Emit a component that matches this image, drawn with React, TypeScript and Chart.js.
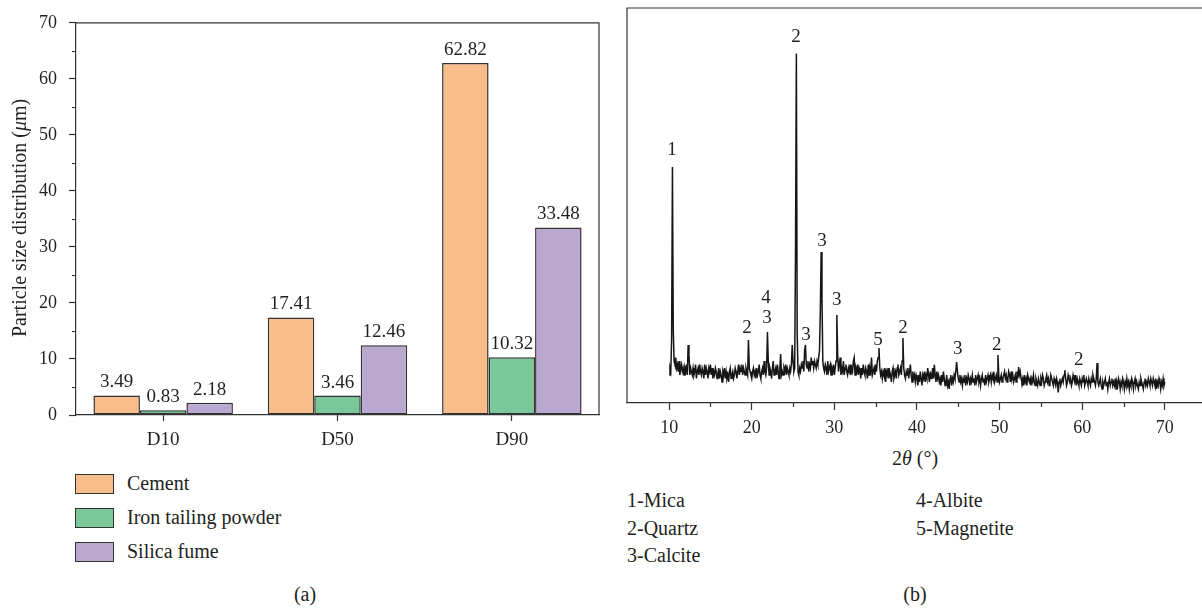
import React, { useEffect, useRef } from "react";
import { Chart, registerables } from "chart.js";

Chart.register(...registerables);

const FONT = "'Liberation Serif', 'Times New Roman', serif";
const INK = "#231f20";

// ---- Panel (a): particle size distribution ----
const categories = ["D10", "D50", "D90"];
const seriesNames = ["Cement", "Iron tailing powder", "Silica fume"];
const cementValues = [3.49, 17.41, 62.82];
const ironValues = [0.83, 3.46, 10.32];
const silicaValues = [2.18, 12.46, 33.48];
const seriesColors = ["#F9BC8B", "#7AC899", "#BAA8D0"];
const barTicks = [0, 10, 20, 30, 40, 50, 60, 70];
const barMinorTicks = [5, 15, 25, 35, 45, 55, 65];

// ---- Panel (b): XRD pattern ----
const xrdStart = 10;
const xrdStep = 0.1;
const xrdIntensity = [
  8, 10, 9, 18, 67.5, 21, 12, 11, 13, 10,
  11, 9, 12, 8, 10, 11, 9, 10, 8, 10,
  9, 11, 8, 16.6, 14, 8, 10, 9, 8, 10,
  8, 9, 11, 7, 9, 10, 8, 11, 9, 8,
  10, 9, 7, 11, 8, 10, 9, 7, 10, 9,
  11, 8, 10, 7, 9, 8, 10, 9, 7, 8,
  10, 7, 9, 8, 6, 9, 8, 10, 7, 9,
  7, 8, 6, 9, 10, 7, 8, 9, 7, 8,
  10, 9, 7, 9, 11, 8, 10, 9, 11, 8,
  10, 9, 8, 10, 9, 8, 18, 10, 9, 8,
  7, 9, 10, 8, 9, 7, 10, 8, 9, 11,
  8, 7, 9, 10, 8, 12, 9, 8, 10, 20.3,
  12, 8, 10, 9, 7, 10, 12, 8, 9, 10,
  8, 11, 9, 7, 10, 14, 8, 9, 8, 10,
  9, 11, 8, 10, 9, 8, 10, 9, 11, 16.6,
  12, 9, 10, 45, 100, 20, 9, 8, 10, 9,
  11, 10, 12, 9, 15, 16.6, 11, 10, 12, 9,
  11, 10, 13, 11, 12, 10, 12, 11, 10, 12,
  11, 13, 15, 26, 43.2, 30, 12, 10, 9, 11,
  10, 8, 12, 9, 10, 11, 8, 10, 9, 11,
  8, 10, 12, 25.2, 14, 9, 11, 13, 8, 10,
  9, 12, 8, 10, 11, 9, 8, 10, 9, 11,
  8, 10, 9, 12, 13, 8, 10, 9, 11, 8,
  10, 9, 7, 10, 8, 11, 9, 8, 10, 9,
  7, 11, 8, 10, 9, 13, 8, 9, 10, 8,
  11, 9, 12, 13, 15.7, 10, 8, 9, 7, 9,
  8, 10, 6, 9, 8, 10, 7, 9, 8, 6,
  9, 10, 7, 8, 9, 7, 10, 11, 8, 9,
  10, 8, 12, 18.6, 10, 8, 7, 9, 8, 10,
  7, 9, 11, 8, 6, 9, 7, 8, 6, 8,
  7, 5, 8, 6, 9, 7, 5, 8, 7, 9,
  6, 8, 7, 10, 8, 6, 9, 7, 8, 10,
  7, 10.9, 8, 6, 9, 7, 8, 6, 7, 5,
  8, 6, 9, 7, 5, 6, 8, 5, 6, 4,
  7, 8, 5, 7, 6, 8, 7, 9, 11.7, 9,
  7, 6, 8, 6, 7, 5, 7, 6, 8, 5,
  7, 6, 8, 7, 5, 7, 6, 8, 6, 7,
  5, 8, 6, 7, 8, 6, 7, 5, 7, 8,
  6, 7, 5, 8, 6, 7, 8, 6, 7, 8,
  6, 8, 7, 9, 6, 7, 8, 6, 13.7, 8,
  6, 7, 8, 6, 7, 8, 9, 7, 8, 6,
  7, 9, 8, 6, 9, 7, 8, 6, 7, 8,
  6, 9, 7, 10.3, 8, 9, 7, 6, 7, 5,
  8, 6, 7, 5, 8, 7, 6, 7, 5, 7,
  6, 8, 6, 5, 7, 6, 5, 7, 6, 5,
  7, 6, 8, 7, 5, 6, 7, 8, 6, 7,
  5, 6, 8, 7, 6, 5, 7, 6, 5, 7,
  6, 3, 6, 7, 5, 6, 7, 6, 8, 9.4,
  7, 5, 6, 8, 7, 6, 7, 5, 6, 8,
  7, 6, 8, 5, 7, 6, 5, 7, 6, 5,
  7, 6, 8, 5, 6, 7, 6, 5, 7, 6,
  5, 7, 6, 8, 7, 6, 5, 7, 11.4, 6,
  5, 6, 7, 5, 4, 6, 5, 6, 7, 5,
  6, 4, 6, 7, 5, 6, 7, 5, 6, 5,
  7, 4, 6, 5, 7, 6, 4, 6, 5, 7,
  6, 4, 6, 5, 7, 5, 6, 4, 6, 5,
  7, 6, 4, 6, 7, 5, 6, 5, 4, 6,
  5, 7, 6, 5, 4, 6, 7, 5, 6, 5,
  7, 6, 5, 7, 6, 5, 7, 6, 5, 7,
  4, 6, 5, 7, 6, 4, 6, 5, 7, 5,
  6,
];
const xrdTicks = [10, 20, 30, 40, 50, 60, 70];
const xrdMinorTicks = [15, 25, 35, 45, 55, 65];
const peakLabels = ["1", "2", "2", "4", "3", "3", "3", "3", "5", "2", "3", "2", "2"];
const peakLabelAngles = [10.36, 25.36, 19.43, 21.73, 21.85, 26.57, 28.5, 30.3, 35.27, 38.3, 44.95, 49.66, 59.58];
const peakLabelHeights = [72.4, 104.7, 21.5, 30, 24.3, 19.5, 46.3, 29.5, 18, 21.5, 15.4, 16.6, 12.3];
const phaseLegendLeft = ["1-Mica", "2-Quartz", "3-Calcite"];
const phaseLegendRight = ["4-Albite", "5-Magnetite"];

const barPlugin = {
  id: "barDecor",
  afterDraw(chart: any) {
    const { ctx, chartArea, scales } = chart;
    ctx.save();
    ctx.strokeStyle = "#333";
    ctx.lineWidth = 1.2;
    ctx.beginPath();
    ctx.moveTo(chartArea.left, chartArea.top);
    ctx.lineTo(chartArea.right, chartArea.top);
    ctx.lineTo(chartArea.right, chartArea.bottom);
    ctx.stroke();
    ctx.beginPath();
    barMinorTicks.forEach((v) => {
      const y = Math.round(scales.y.getPixelForValue(v)) + 0.5;
      ctx.moveTo(chartArea.left - 4, y);
      ctx.lineTo(chartArea.left, y);
    });
    ctx.stroke();
    ctx.fillStyle = INK;
    ctx.font = `19px ${FONT}`;
    ctx.textAlign = "center";
    ctx.textBaseline = "alphabetic";
    chart.data.datasets.forEach((ds: any, di: number) => {
      const meta = chart.getDatasetMeta(di);
      meta.data.forEach((el: any, i: number) => {
        ctx.fillText(ds.data[i].toFixed(2), el.x, el.y - 8);
      });
    });
    ctx.translate(26, (chartArea.top + chartArea.bottom) / 2 - 1);
    ctx.rotate(-Math.PI / 2);
    const parts: [string, string][] = [
      ["Particle size distribution (", `20px ${FONT}`],
      ["\u03bc", `italic 20px ${FONT}`],
      ["m)", `20px ${FONT}`],
    ];
    let total = 0;
    parts.forEach(([t, f]) => {
      ctx.font = f;
      total += ctx.measureText(t).width;
    });
    let x = -total / 2;
    ctx.textAlign = "left";
    parts.forEach(([t, f]) => {
      ctx.font = f;
      ctx.fillText(t, x, 0);
      x += ctx.measureText(t).width;
    });
    ctx.restore();
  },
};

const xrdPlugin = {
  id: "xrdDecor",
  afterDraw(chart: any) {
    const { ctx, chartArea, scales } = chart;
    ctx.save();
    ctx.strokeStyle = "#333";
    ctx.lineWidth = 1.2;
    ctx.beginPath();
    ctx.moveTo(chartArea.left, chartArea.bottom);
    ctx.lineTo(chartArea.left, chartArea.top);
    ctx.lineTo(chartArea.right, chartArea.top);
    ctx.stroke();
    ctx.beginPath();
    xrdMinorTicks.forEach((v) => {
      const x = Math.round(scales.x.getPixelForValue(v)) + 0.5;
      ctx.moveTo(x, chartArea.bottom);
      ctx.lineTo(x, chartArea.bottom + 4);
    });
    ctx.stroke();
    ctx.fillStyle = INK;
    ctx.font = `19px ${FONT}`;
    ctx.textAlign = "center";
    ctx.textBaseline = "middle";
    peakLabels.forEach((t, i) => {
      ctx.fillText(t, scales.x.getPixelForValue(peakLabelAngles[i]), scales.y.getPixelForValue(peakLabelHeights[i]));
    });
    ctx.restore();
  },
};

export default function App() {
  const barRef = useRef<HTMLCanvasElement>(null);
  const xrdRef = useRef<HTMLCanvasElement>(null);

  useEffect(() => {
    const seriesValues = [cementValues, ironValues, silicaValues];
    const barChart = new Chart(barRef.current as HTMLCanvasElement, {
      type: "bar",
      data: {
        labels: categories,
        datasets: seriesNames.map((name, i) => ({
          label: name,
          data: seriesValues[i],
          backgroundColor: seriesColors[i],
          borderColor: "#333",
          borderWidth: 1.5,
          borderSkipped: false,
          categoryPercentage: 0.8,
          barPercentage: 1.0,
        })),
      },
      options: {
        animation: false,
        responsive: false,
        maintainAspectRatio: false,
        devicePixelRatio: 1,
        layout: { padding: { top: 20, right: 11, left: 0, bottom: 0 } },
        plugins: { legend: { display: false }, tooltip: { enabled: false } },
        scales: {
          x: {
            grid: { display: true, drawOnChartArea: false, offset: false, tickLength: 6, color: "#333", tickColor: "#333", tickWidth: 1.2 },
            border: { display: true, color: "#333", width: 1.2 },
            ticks: { font: { family: FONT, size: 19 }, color: INK, padding: 8 },
            afterFit: (s: any) => {
              s.height = 35;
            },
          },
          y: {
            min: 0,
            max: 70,
            afterBuildTicks: (s: any) => {
              s.ticks = barTicks.map((v) => ({ value: v }));
            },
            ticks: { font: { family: FONT, size: 18 }, color: INK, padding: 12 },
            grid: { display: true, drawOnChartArea: false, tickLength: 7, color: "#333", tickColor: "#333", tickWidth: 1.2 },
            border: { display: true, color: "#333", width: 1.2 },
            afterFit: (s: any) => {
              s.width = 76;
            },
          },
        },
      } as any,
      plugins: [barPlugin],
    });

    const points = xrdIntensity.map((v, i) => ({ x: xrdStart + i * xrdStep, y: v }));
    const xrdChart = new Chart(xrdRef.current as HTMLCanvasElement, {
      type: "line",
      data: {
        datasets: [
          {
            data: points,
            borderColor: "#151515",
            borderWidth: 1.5,
            pointRadius: 0,
            tension: 0,
            fill: false,
          },
        ],
      },
      options: {
        animation: false,
        responsive: false,
        maintainAspectRatio: false,
        devicePixelRatio: 1,
        layout: { padding: { top: 8, left: 17, right: 0, bottom: 0 } },
        plugins: { legend: { display: false }, tooltip: { enabled: false } },
        scales: {
          x: {
            type: "linear",
            min: 4.9,
            max: 74.5,
            afterBuildTicks: (s: any) => {
              s.ticks = xrdTicks.map((v) => ({ value: v }));
            },
            ticks: { font: { family: FONT, size: 18 }, color: INK, padding: 7, callback: (v: any) => String(v) },
            grid: { display: true, drawOnChartArea: false, tickLength: 7, color: "#333", tickColor: "#333", tickWidth: 1.2 },
            border: { display: true, color: "#333", width: 1.2 },
            afterFit: (s: any) => {
              s.height = 37;
            },
          },
          y: { display: false, min: 0, max: 113 },
        },
      } as any,
      plugins: [xrdPlugin],
    });

    return () => {
      barChart.destroy();
      xrdChart.destroy();
    };
  }, []);

  const text: React.CSSProperties = {
    position: "absolute",
    fontFamily: FONT,
    fontSize: 20,
    color: INK,
    whiteSpace: "nowrap",
    lineHeight: "24px",
    height: 24,
  };

  return (
    <div style={{ position: "fixed", left: 0, top: 0, width: 1202, height: 610, background: "#fff", overflow: "hidden" }}>
      <canvas ref={barRef} width={610} height={450} style={{ position: "absolute", left: 0, top: 0, width: 610, height: 450 }} />
      <canvas ref={xrdRef} width={592} height={440} style={{ position: "absolute", left: 610, top: 0, width: 592, height: 440 }} />
      {seriesNames.map((name, i) => (
        <React.Fragment key={name}>
          <div
            style={{
              position: "absolute",
              left: 75,
              top: 474 + i * 34,
              width: 39,
              height: 20,
              boxSizing: "border-box",
              border: "1.5px solid #333",
              background: seriesColors[i],
            }}
          />
          <div style={{ ...text, left: 127, top: 483 + i * 34 - 12 }}>{name}</div>
        </React.Fragment>
      ))}
      <div style={{ ...text, left: 255, width: 100, textAlign: "center", top: 594 - 12 }}>(a)</div>
      <div style={{ ...text, left: 865, width: 100, textAlign: "center", top: 594 - 12 }}>(b)</div>
      <div style={{ ...text, left: 835, width: 160, textAlign: "center", top: 458 - 12 }}>
        2<i>θ</i> (°)
      </div>
      {phaseLegendLeft.map((t, i) => (
        <div key={t} style={{ ...text, left: 627, top: 500 + i * 27.7 - 12 }}>
          {t}
        </div>
      ))}
      {phaseLegendRight.map((t, i) => (
        <div key={t} style={{ ...text, left: 916, top: 500 + i * 27.7 - 12 }}>
          {t}
        </div>
      ))}
    </div>
  );
}
